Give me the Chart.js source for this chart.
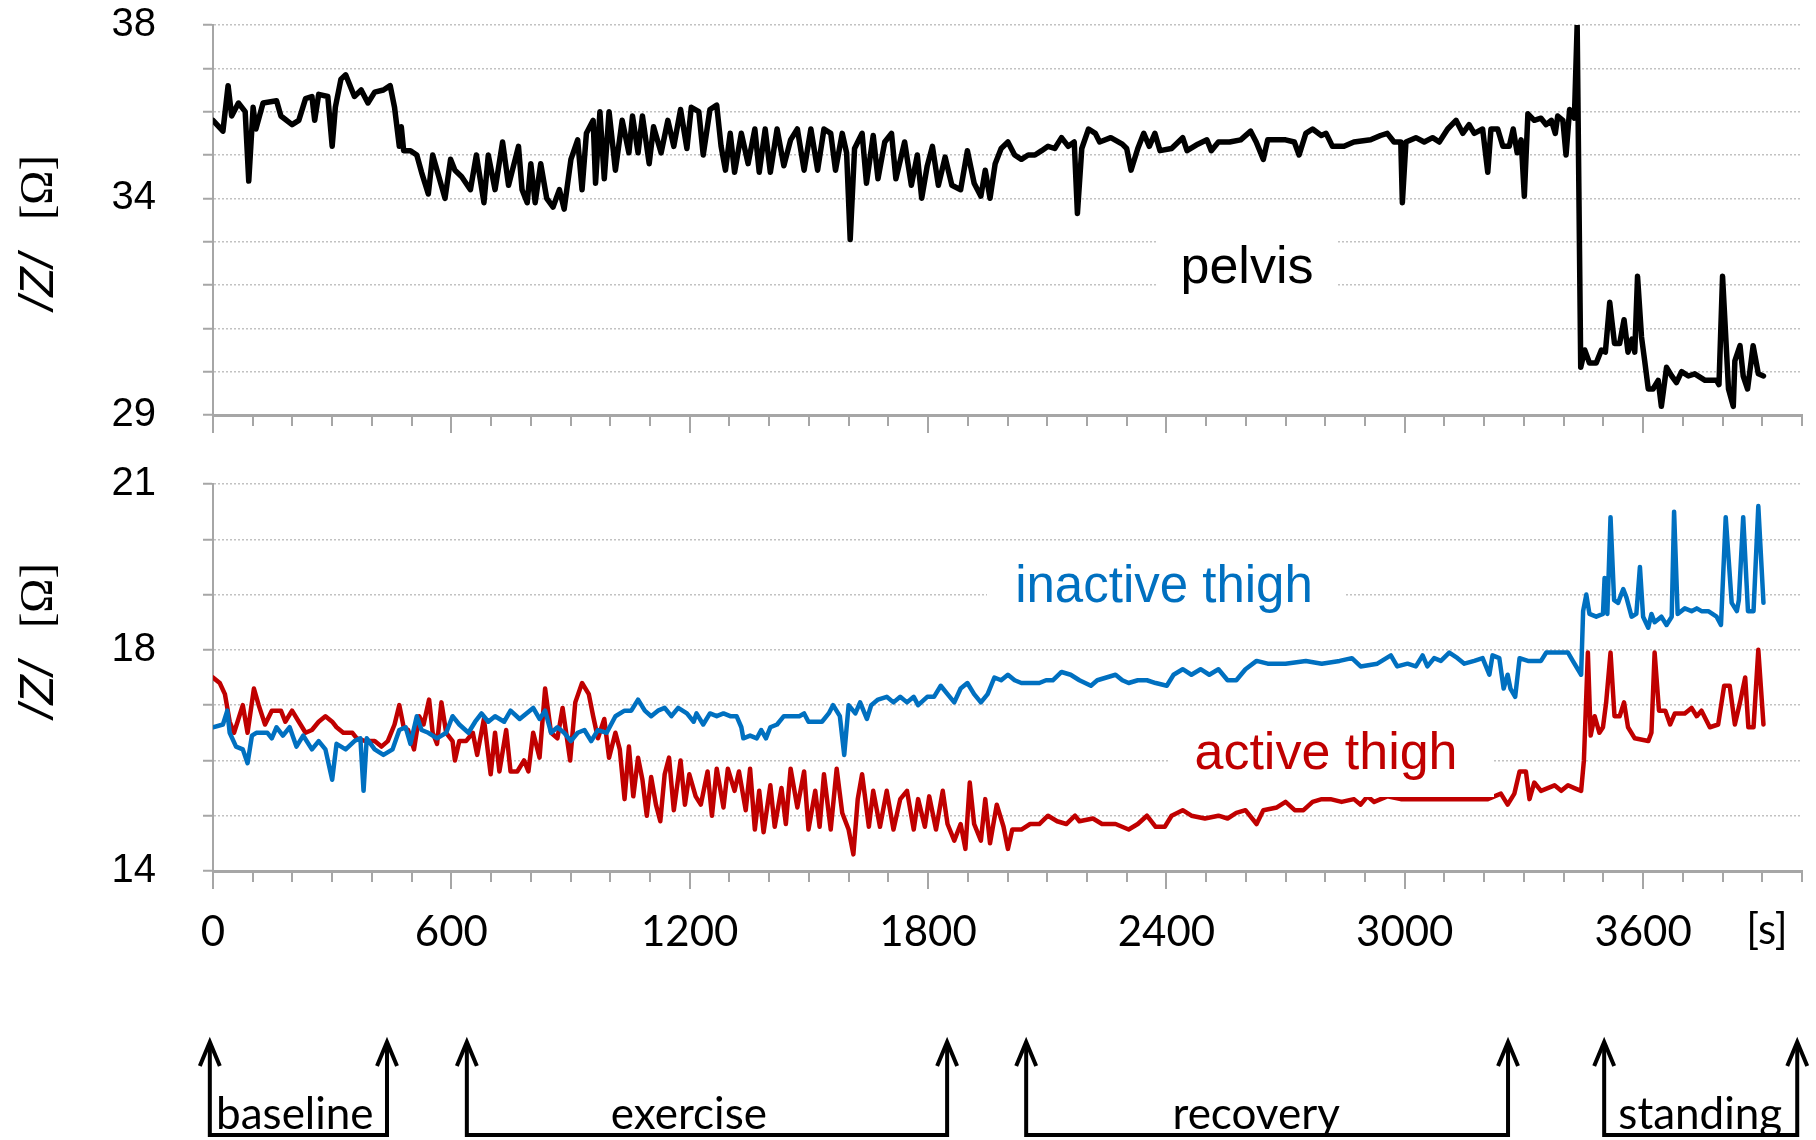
<!DOCTYPE html>
<html>
<head>
<meta charset="utf-8">
<script src="https://cdn.jsdelivr.net/npm/chart.js@4.4.1/dist/chart.umd.min.js"></script>
<style>
  html, body { margin: 0; padding: 0; background: #fff; }
  #wrap { position: relative; width: 1816px; height: 1140px; overflow: hidden; }
  canvas { position: absolute; left: 0; }
  #top { top: 0; }
  #bot { top: 440px; }
</style>
</head>
<body>
<div id="wrap">
  <canvas id="top" width="1816" height="440"></canvas>
  <canvas id="bot" width="1816" height="700"></canvas>
</div>
<script>
// Impedance |Z| during baseline / exercise / recovery / standing.
// Values (time in s, |Z| in ohm).

const TIME_LABELS = [0, 600, 1200, 1800, 2400, 3000, 3600];
const PELVIS_TICKS = [38, 34, 29];
const THIGH_TICKS = [21, 18, 14];

const pelvisT = [0, 25, 38, 47, 64, 81, 90, 101, 108, 126, 160, 171, 199, 216, 233, 249, 256, 266, 289, 300, 308, 322, 334, 356, 373, 390, 407, 429, 446, 457, 469, 474, 480, 497, 513, 525, 542, 553, 570, 584, 598, 609, 626, 648, 663, 682, 693, 710, 729, 744, 769, 778, 791, 800, 811, 825, 840, 856, 872, 884, 901, 918, 929, 940, 957, 963, 974, 985, 997, 1013, 1030, 1047, 1056, 1070, 1081, 1098, 1109, 1128, 1145, 1160, 1177, 1193, 1204, 1223, 1234, 1251, 1268, 1279, 1290, 1302, 1313, 1330, 1347, 1364, 1375, 1390, 1403, 1420, 1437, 1454, 1471, 1488, 1505, 1522, 1538, 1555, 1567, 1584, 1595, 1604, 1615, 1634, 1645, 1662, 1674, 1691, 1708, 1719, 1741, 1758, 1773, 1784, 1798, 1811, 1826, 1843, 1860, 1882, 1899, 1916, 1933, 1944, 1956, 1969, 1984, 2001, 2018, 2035, 2052, 2069, 2086, 2102, 2119, 2136, 2153, 2168, 2176, 2187, 2204, 2221, 2232, 2260, 2289, 2300, 2311, 2328, 2343, 2357, 2371, 2384, 2413, 2441, 2452, 2479, 2502, 2513, 2531, 2559, 2587, 2612, 2626, 2644, 2655, 2700, 2722, 2734, 2751, 2768, 2790, 2802, 2818, 2847, 2872, 2914, 2939, 2956, 2973, 2990, 2994, 3003, 3028, 3049, 3070, 3087, 3108, 3129, 3146, 3162, 3175, 3196, 3209, 3217, 3234, 3247, 3263, 3273, 3283, 3293, 3301, 3310, 3326, 3343, 3356, 3369, 3379, 3385, 3398, 3406, 3415, 3427, 3434, 3443, 3453, 3465, 3482, 3495, 3505, 3516, 3528, 3541, 3552, 3562, 3572, 3579, 3586, 3596, 3604, 3613, 3625, 3638, 3646, 3659, 3672, 3684, 3697, 3714, 3730, 3756, 3785, 3791, 3800, 3815, 3827, 3831, 3844, 3852, 3863, 3877, 3890, 3903];
const pelvisZ = [35.8, 35.55, 36.6, 35.9, 36.2, 36.0, 34.4, 36.1, 35.6, 36.2, 36.25, 35.9, 35.7, 35.8, 36.3, 36.35, 35.8, 36.4, 36.35, 35.2, 36.1, 36.75, 36.85, 36.35, 36.5, 36.2, 36.45, 36.5, 36.6, 36.1, 35.2, 35.65, 35.1, 35.1, 35.0, 34.6, 34.1, 35.0, 34.45, 34.0, 34.9, 34.65, 34.5, 34.2, 35.0, 33.9, 35.0, 34.2, 35.3, 34.3, 35.2, 34.2, 33.9, 34.8, 33.9, 34.8, 34.0, 33.8, 34.2, 33.75, 34.9, 35.35, 34.2, 35.5, 35.8, 34.35, 36.0, 34.45, 36.0, 34.65, 35.8, 35.05, 35.9, 35.05, 35.9, 34.8, 35.65, 35.05, 35.8, 35.2, 36.05, 35.15, 36.1, 36.0, 35.0, 36.05, 36.15, 35.2, 34.65, 35.5, 34.6, 35.5, 34.8, 35.6, 34.6, 35.6, 34.6, 35.6, 34.75, 35.35, 35.6, 34.65, 35.6, 34.65, 35.6, 35.5, 34.65, 35.5, 35.05, 33.05, 35.15, 35.5, 34.35, 35.45, 34.45, 35.3, 35.5, 34.45, 35.3, 34.3, 35.0, 34.0, 34.75, 35.2, 34.3, 34.95, 34.3, 34.2, 35.1, 34.35, 34.05, 34.65, 34.0, 34.8, 35.15, 35.3, 35.0, 34.9, 35.0, 35.0, 35.1, 35.2, 35.15, 35.4, 35.2, 35.3, 33.65, 35.15, 35.6, 35.5, 35.3, 35.4, 35.25, 35.15, 34.65, 35.15, 35.5, 35.2, 35.5, 35.1, 35.15, 35.4, 35.1, 35.25, 35.35, 35.1, 35.3, 35.3, 35.35, 35.55, 35.3, 34.9, 35.35, 35.35, 35.3, 35.0, 35.5, 35.6, 35.45, 35.5, 35.2, 35.2, 35.3, 35.35, 35.45, 35.5, 35.3, 35.3, 33.9, 35.3, 35.4, 35.3, 35.4, 35.3, 35.6, 35.8, 35.5, 35.7, 35.5, 35.6, 34.6, 35.6, 35.6, 35.2, 35.2, 35.6, 35.05, 35.35, 34.05, 35.95, 35.8, 35.85, 35.7, 35.8, 35.5, 35.9, 35.8, 35.0, 36.05, 35.85, 38.0, 30.1, 30.5, 30.2, 30.2, 30.5, 30.45, 31.6, 30.65, 30.65, 31.2, 30.45, 30.75, 30.45, 32.2, 30.8, 30.25, 29.6, 29.6, 29.8, 29.2, 30.1, 29.9, 29.75, 30.0, 29.9, 29.95, 29.8, 29.8, 29.7, 32.2, 29.6, 29.2, 30.25, 30.6, 29.9, 29.6, 30.6, 29.95, 29.9];

const inactiveT = [0, 25, 36, 42, 58, 75, 87, 98, 109, 137, 148, 160, 176, 193, 210, 227, 249, 266, 283, 300, 311, 334, 356, 371, 379, 387, 407, 429, 452, 469, 485, 497, 513, 525, 542, 564, 587, 603, 620, 643, 660, 676, 693, 710, 733, 749, 772, 789, 806, 822, 836, 851, 867, 884, 901, 918, 935, 952, 969, 991, 1013, 1036, 1053, 1070, 1087, 1103, 1120, 1137, 1154, 1171, 1193, 1210, 1217, 1234, 1251, 1268, 1285, 1302, 1318, 1330, 1335, 1352, 1369, 1380, 1392, 1403, 1420, 1437, 1459, 1476, 1488, 1499, 1533, 1550, 1561, 1578, 1589, 1600, 1617, 1629, 1646, 1657, 1674, 1696, 1713, 1730, 1747, 1764, 1775, 1798, 1815, 1832, 1849, 1866, 1882, 1899, 1916, 1933, 1950, 1967, 1984, 2001, 2018, 2035, 2057, 2080, 2097, 2114, 2136, 2159, 2181, 2210, 2226, 2272, 2289, 2305, 2328, 2351, 2373, 2401, 2418, 2441, 2463, 2486, 2508, 2531, 2554, 2576, 2599, 2627, 2655, 2700, 2751, 2791, 2836, 2867, 2889, 2931, 2965, 2981, 3007, 3028, 3045, 3057, 3074, 3091, 3112, 3133, 3150, 3175, 3196, 3213, 3221, 3238, 3249, 3259, 3266, 3278, 3289, 3310, 3343, 3356, 3411, 3423, 3444, 3449, 3457, 3465, 3482, 3499, 3503, 3510, 3518, 3527, 3537, 3550, 3558, 3571, 3583, 3592, 3600, 3613, 3621, 3629, 3646, 3659, 3672, 3678, 3687, 3705, 3722, 3735, 3747, 3764, 3785, 3796, 3808, 3823, 3836, 3841, 3852, 3864, 3878, 3890, 3903];
const inactiveZ = [16.6, 16.65, 16.9, 16.5, 16.25, 16.2, 15.95, 16.45, 16.5, 16.5, 16.4, 16.6, 16.45, 16.6, 16.25, 16.45, 16.2, 16.35, 16.2, 15.65, 16.3, 16.2, 16.35, 16.4, 15.45, 16.4, 16.2, 16.1, 16.2, 16.55, 16.6, 16.3, 16.8, 16.55, 16.5, 16.4, 16.5, 16.8, 16.65, 16.5, 16.7, 16.85, 16.7, 16.8, 16.7, 16.9, 16.75, 16.85, 16.95, 16.75, 16.9, 16.5, 16.6, 16.5, 16.35, 16.5, 16.55, 16.35, 16.55, 16.5, 16.8, 16.9, 16.9, 17.1, 16.9, 16.8, 16.9, 16.95, 16.8, 16.95, 16.85, 16.7, 16.85, 16.65, 16.85, 16.8, 16.85, 16.8, 16.8, 16.6, 16.4, 16.45, 16.4, 16.55, 16.4, 16.6, 16.65, 16.8, 16.8, 16.8, 16.85, 16.7, 16.7, 16.85, 17.0, 16.8, 16.1, 17.0, 16.85, 17.05, 16.75, 17.0, 17.1, 17.15, 17.05, 17.15, 17.05, 17.15, 17.0, 17.15, 17.15, 17.35, 17.2, 17.05, 17.3, 17.4, 17.2, 17.05, 17.2, 17.5, 17.45, 17.55, 17.45, 17.4, 17.4, 17.4, 17.45, 17.45, 17.6, 17.55, 17.45, 17.35, 17.45, 17.55, 17.45, 17.4, 17.45, 17.45, 17.4, 17.35, 17.55, 17.65, 17.55, 17.65, 17.55, 17.65, 17.45, 17.45, 17.65, 17.8, 17.75, 17.75, 17.8, 17.75, 17.8, 17.85, 17.7, 17.75, 17.9, 17.7, 17.75, 17.7, 17.9, 17.7, 17.85, 17.8, 17.95, 17.85, 17.75, 17.8, 17.85, 17.55, 17.9, 17.85, 17.3, 17.55, 17.3, 17.15, 17.85, 17.8, 17.8, 17.95, 17.95, 17.8, 17.55, 18.7, 19.0, 18.65, 18.6, 18.65, 19.3, 18.65, 20.4, 18.9, 18.85, 19.1, 18.95, 18.6, 18.65, 19.5, 18.6, 18.4, 18.65, 18.5, 18.6, 18.45, 18.6, 20.5, 18.65, 18.75, 18.7, 18.75, 18.7, 18.7, 18.6, 18.45, 20.4, 18.85, 18.7, 18.9, 20.4, 18.7, 18.7, 20.6, 18.85];

const activeT = [0, 17, 30, 42, 53, 64, 75, 87, 103, 115, 131, 148, 171, 182, 199, 216, 233, 249, 266, 283, 300, 311, 328, 351, 362, 384, 407, 424, 440, 457, 469, 480, 491, 506, 519, 530, 544, 553, 564, 575, 587, 603, 609, 620, 637, 654, 665, 682, 693, 699, 710, 721, 738, 749, 766, 783, 794, 806, 822, 836, 851, 867, 880, 899, 912, 929, 946, 957, 969, 985, 997, 1013, 1024, 1036, 1047, 1058, 1070, 1081, 1092, 1103, 1115, 1126, 1137, 1148, 1160, 1177, 1188, 1199, 1215, 1228, 1245, 1256, 1268, 1285, 1296, 1313, 1324, 1341, 1352, 1364, 1375, 1386, 1403, 1414, 1431, 1442, 1454, 1471, 1488, 1499, 1516, 1527, 1538, 1555, 1570, 1584, 1600, 1612, 1623, 1634, 1651, 1662, 1679, 1696, 1713, 1730, 1747, 1764, 1775, 1792, 1803, 1820, 1837, 1849, 1866, 1882, 1894, 1905, 1916, 1933, 1944, 1956, 1973, 1990, 2001, 2012, 2035, 2057, 2080, 2102, 2125, 2148, 2170, 2181, 2215, 2238, 2272, 2305, 2328, 2351, 2373, 2396, 2413, 2441, 2463, 2497, 2531, 2554, 2576, 2599, 2627, 2644, 2678, 2700, 2723, 2745, 2768, 2791, 2813, 2841, 2872, 2889, 2906, 2923, 2956, 2990, 3024, 3074, 3133, 3209, 3242, 3259, 3276, 3289, 3305, 3314, 3326, 3343, 3360, 3377, 3394, 3411, 3427, 3444, 3451, 3461, 3468, 3478, 3490, 3499, 3507, 3518, 3528, 3541, 3552, 3562, 3579, 3613, 3621, 3629, 3640, 3656, 3668, 3680, 3705, 3722, 3735, 3747, 3768, 3789, 3804, 3818, 3831, 3844, 3857, 3865, 3878, 3890, 3903];
const activeZ = [17.5, 17.4, 17.2, 16.7, 16.5, 16.75, 17.0, 16.5, 17.3, 17.0, 16.65, 16.9, 16.9, 16.7, 16.9, 16.7, 16.5, 16.55, 16.7, 16.8, 16.7, 16.6, 16.5, 16.5, 16.4, 16.35, 16.35, 16.25, 16.35, 16.65, 17.0, 16.6, 16.55, 16.2, 16.8, 16.65, 17.1, 16.5, 16.3, 17.05, 16.5, 16.35, 16.0, 16.35, 16.35, 16.5, 16.1, 16.75, 16.1, 15.75, 16.5, 15.8, 16.55, 15.8, 15.8, 16.0, 15.8, 16.5, 16.05, 17.3, 16.5, 16.4, 16.95, 16.0, 17.05, 17.4, 17.2, 16.8, 16.4, 16.75, 16.05, 16.5, 16.2, 15.3, 16.25, 15.35, 16.05, 15.65, 15.0, 15.7, 15.2, 14.9, 15.75, 16.05, 15.1, 16.0, 15.2, 15.75, 15.35, 15.2, 15.8, 15.0, 15.85, 15.15, 15.85, 15.45, 15.8, 15.1, 15.85, 14.75, 15.45, 14.7, 15.55, 14.8, 15.5, 14.85, 15.85, 15.15, 15.8, 14.75, 15.45, 14.8, 15.75, 14.75, 15.85, 15.05, 14.75, 14.3, 15.3, 15.75, 14.8, 15.45, 14.8, 15.45, 14.75, 15.3, 15.45, 14.75, 15.3, 14.8, 15.35, 14.75, 15.45, 14.85, 14.55, 14.85, 14.4, 15.6, 14.85, 14.55, 15.3, 14.5, 15.2, 14.8, 14.4, 14.75, 14.75, 14.85, 14.85, 15.0, 14.9, 14.85, 15.0, 14.9, 14.95, 14.85, 14.85, 14.75, 14.85, 15.0, 14.8, 14.8, 15.0, 15.1, 15.0, 14.95, 15.0, 14.95, 15.05, 15.1, 14.85, 15.1, 15.15, 15.25, 15.1, 15.1, 15.25, 15.3, 15.3, 15.25, 15.3, 15.2, 15.35, 15.25, 15.35, 15.3, 15.3, 15.3, 15.3, 15.3, 15.4, 15.2, 15.4, 15.8, 15.8, 15.3, 15.6, 15.45, 15.5, 15.55, 15.45, 15.55, 15.5, 15.45, 16.0, 17.95, 16.45, 16.8, 16.5, 16.6, 17.05, 17.95, 16.8, 16.8, 17.05, 16.6, 16.4, 16.35, 16.5, 17.95, 16.9, 16.9, 16.65, 16.85, 16.85, 16.95, 16.8, 16.9, 16.6, 16.65, 17.35, 17.35, 16.65, 17.05, 17.5, 16.6, 16.6, 18.0, 16.65];

const PHASES = ["baseline", "exercise", "recovery", "standing"];
const phaseStart = [-8, 639, 2047, 3502];
const phaseEnd = [438, 1848, 3260, 3988];
const phaseLabelAt = [206, 1198, 2626, 3744];

const AXIS = "#a6a6a6";
const GRID = "#c2c2c2";
const SANS = "'Liberation Sans', Arial, sans-serif";
const HUMAN = "Lato, 'Open Sans', sans-serif";

const pts = (ts, zs) => ts.map((t, i) => ({ x: t, y: zs[i] }));

function line(data, color, width) {
  return { data, borderColor: color, borderWidth: width, pointRadius: 0, tension: 0, borderJoinStyle: "round", borderCapStyle: "round" };
}

// afterFit pins the axis box so the plot area lands where the reference has it
// (Chart.js would otherwise add tick padding + half a label to the edges).
function xScale(showLabels, height) {
  return {
    type: "linear",
    min: 0,
    max: 4000,
    grid: { display: false, drawTicks: false },
    border: { color: AXIS, width: 3 },
    ticks: {
      display: showLabels,
      stepSize: 100,
      autoSkip: false,
      maxRotation: 0,
      padding: 36,
      color: "#000",
      font: { family: HUMAN, size: 42 },
      callback: (v) => (TIME_LABELS.includes(v) ? String(v) : ""),
    },
    afterFit: (s) => {
      s.height = height;
      s.paddingLeft = 0;
      s.paddingRight = 0;
    },
  };
}

function yScale(min, max, labels) {
  return {
    min,
    max,
    grid: { color: GRID, lineWidth: 1.5, drawTicks: true, tickLength: 10, tickColor: AXIS, tickWidth: 2, tickBorderDash: [] },
    border: { color: AXIS, width: 2, dash: [2, 2] },
    ticks: {
      stepSize: 1,
      autoSkip: false,
      padding: 47,
      color: "#000",
      font: { family: SANS, size: 40 },
      callback: (v) => (labels.includes(v) ? String(v) : ""),
    },
    afterFit: (s) => {
      s.width = 213;
      s.paddingTop = 0;
      s.paddingBottom = 0;
    },
  };
}

// Everything that is not data: x tick marks (long at labelled times), the
// rotated |Z| [Ω] title, in-plot series labels on white, phase brackets.
const decor = {
  id: "decor",
  afterDraw(chart, args, o) {
    const { ctx, chartArea: a } = chart;
    const x = chart.scales.x;
    ctx.save();
    ctx.strokeStyle = AXIS;
    ctx.lineWidth = 2;
    x.ticks.forEach((t) => {
      const px = Math.round(x.getPixelForValue(t.value));
      const len = TIME_LABELS.includes(t.value) ? 18 : 11;
      ctx.beginPath();
      ctx.moveTo(px, a.bottom);
      ctx.lineTo(px, a.bottom + len);
      ctx.stroke();
    });

    // y title, reading bottom to top
    ctx.save();
    ctx.translate(40, o.titleY);
    ctx.rotate(-Math.PI / 2);
    ctx.fillStyle = "#000";
    ctx.textBaseline = "middle";
    ctx.textAlign = "left";
    ctx.font = "italic 48px " + SANS;
    ctx.fillText("/Z/", 0, 0);
    ctx.font = "46px 'Liberation Serif', 'Times New Roman', serif";
    ctx.fillText("[Ω]", 90, 0);
    ctx.restore();

    (o.labels || []).forEach((l) => {
      ctx.fillStyle = "#fff";
      ctx.fillRect(l.box[0], l.box[1], l.box[2] - l.box[0], l.box[3] - l.box[1]);
      ctx.fillStyle = l.color;
      ctx.font = l.size + "px " + SANS;
      ctx.textAlign = "center";
      ctx.textBaseline = "middle";
      ctx.fillText(l.text, l.cx, l.cy);
    });

    if (o.unit) {
      ctx.fillStyle = "#000";
      ctx.font = "42px " + HUMAN;
      ctx.textAlign = "center";
      ctx.textBaseline = "middle";
      ctx.fillText("[s]", o.unit[0], o.unit[1]);
    }

    if (o.phases) {
      const yTip = 602, yBase = 695;
      ctx.strokeStyle = "#000";
      ctx.lineWidth = 4;
      ctx.fillStyle = "#000";
      ctx.font = "44px " + HUMAN;
      ctx.textAlign = "center";
      ctx.textBaseline = "alphabetic";
      PHASES.forEach((name, i) => {
        const x0 = x.getPixelForValue(phaseStart[i]);
        const x1 = x.getPixelForValue(phaseEnd[i]);
        ctx.lineJoin = "miter";
        ctx.beginPath();
        ctx.moveTo(x0, yTip + 2);
        ctx.lineTo(x0, yBase);
        ctx.lineTo(x1, yBase);
        ctx.lineTo(x1, yTip + 2);
        ctx.stroke();
        [x0, x1].forEach((px) => {
          ctx.beginPath();
          ctx.moveTo(px - 10, yTip + 24);
          ctx.lineTo(px, yTip);
          ctx.lineTo(px + 10, yTip + 24);
          ctx.stroke();
        });
        ctx.fillText(name, x.getPixelForValue(phaseLabelAt[i]), 689);
      });
    }
    ctx.restore();
  },
};

Chart.defaults.font.family = SANS;

new Chart(document.getElementById("top"), {
  type: "line",
  data: { datasets: [line(pts(pelvisT, pelvisZ), "#000", 5.5)] },
  options: {
    responsive: false,
    animation: false,
    events: [],
    layout: { padding: { top: 25, right: 14, left: 0, bottom: 0 } },
    scales: { x: xScale(false, 25), y: yScale(29, 38, PELVIS_TICKS) },
    plugins: {
      legend: { display: false },
      tooltip: { enabled: false },
      decor: {
        titleY: 310,
        labels: [{ text: "pelvis", color: "#000", size: 52, cx: 1247, cy: 269, box: [1157, 228, 1337, 306] }],
      },
    },
  },
  plugins: [decor],
});

new Chart(document.getElementById("bot"), {
  type: "line",
  data: {
    datasets: [
      line(pts(inactiveT, inactiveZ), "#0070c0", 4.5),
      line(pts(activeT, activeZ), "#c00000", 4.5),
    ],
  },
  options: {
    responsive: false,
    animation: false,
    events: [],
    layout: { padding: { top: 44, right: 14, left: 0, bottom: 0 } },
    scales: { x: xScale(true, 269), y: yScale(14, 21, THIGH_TICKS) },
    plugins: {
      legend: { display: false },
      tooltip: { enabled: false },
      decor: {
        titleY: 278,
        unit: [1767, 490],
        phases: true,
        labels: [
          { text: "inactive thigh", color: "#0070c0", size: 51, cx: 1164, cy: 148, box: [987, 110, 1346, 188] },
          { text: "active thigh", color: "#c00000", size: 52, cx: 1326, cy: 315, box: [1170, 278, 1494, 357] },
        ],
      },
    },
  },
  plugins: [decor],
});
</script>
</body>
</html>
